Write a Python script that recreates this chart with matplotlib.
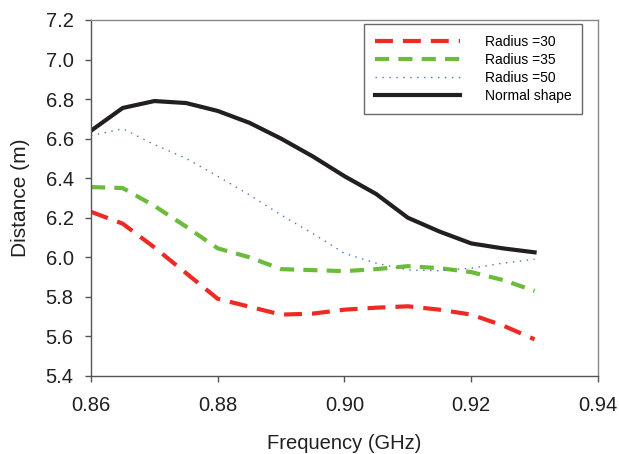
import numpy as np
import matplotlib
matplotlib.use("Agg")
import matplotlib.pyplot as plt

plt.rcParams['font.family'] = ['Liberation Sans', 'DejaVu Sans']

# values
freq = [0.86, 0.865, 0.87, 0.875, 0.88, 0.885, 0.89, 0.895, 0.90, 0.905, 0.91, 0.915, 0.92, 0.925, 0.93]
radius30 = [6.23, 6.17, 6.05, 5.92, 5.79, 5.75, 5.71, 5.715, 5.735, 5.745, 5.752, 5.735, 5.71, 5.655, 5.585]
radius35 = [6.355, 6.35, 6.26, 6.155, 6.045, 6.0, 5.94, 5.935, 5.93, 5.94, 5.955, 5.945, 5.925, 5.885, 5.83]
radius50 = [6.615, 6.65, 6.57, 6.50, 6.41, 6.315, 6.214, 6.12, 6.02, 5.97, 5.936, 5.932, 5.945, 5.97, 5.99]
normal = [6.64, 6.755, 6.79, 6.78, 6.74, 6.68, 6.60, 6.51, 6.41, 6.32, 6.20, 6.13, 6.07, 6.045, 6.025]

xticks = [0.86, 0.88, 0.90, 0.92, 0.94]
yticks = [5.4, 5.6, 5.8, 6.0, 6.2, 6.4, 6.6, 6.8, 7.0, 7.2]

fig = plt.figure(figsize=(6.19, 4.54), dpi=100)
ax = fig.add_axes([0.147, 0.172, 0.819, 0.784])

ax.plot(freq, radius30, color='#ee2a24', lw=3.0, dashes=(4.3, 2.4), label='Radius =30')
ax.plot(freq, radius35, color='#6cbb3c', lw=3.0, dashes=(3.4, 2.2), label='Radius =35')
ax.plot(freq, radius50, color='#4a72c4', lw=1.0, dashes=(1, 4), label='Radius =50')
ax.plot(freq, normal, color='#231f20', lw=3.0, label='Normal shape')

ax.set_xlim(0.86, 0.94)
ax.set_ylim(5.4, 7.2)
ax.set_xticks(xticks)
ax.set_yticks(yticks)
ax.set_xticklabels([f"{t:.2f}" for t in xticks])
ax.set_yticklabels([f"{t:.1f}" for t in yticks])
ax.tick_params(direction='out', length=4, width=1, color='#555555', labelsize=14.5, labelcolor='#231f20')
ax.tick_params(axis='x', pad=10.5)
ax.tick_params(axis='y', pad=8.5)
for s in ax.spines.values():
    s.set_color('#555555')
    s.set_linewidth(1)
ax.spines['top'].set_color('#888888')
ax.spines['right'].set_color('#888888')

ax.set_xlabel('Frequency (GHz)', fontsize=14.5, color='#231f20', labelpad=14)
ax.set_ylabel('Distance (m)', fontsize=15, color='#231f20', labelpad=11)

leg = ax.legend(loc='upper left', bbox_to_anchor=(0.538, 0.989), borderaxespad=0,
                fontsize=10, handlelength=6.1, handletextpad=1.8, labelspacing=0.28,
                fancybox=False, frameon=True, borderpad=0.8)
leg.get_frame().set_edgecolor('#444444')
leg.get_frame().set_linewidth(1)

fig.savefig('out.png', dpi=100)
